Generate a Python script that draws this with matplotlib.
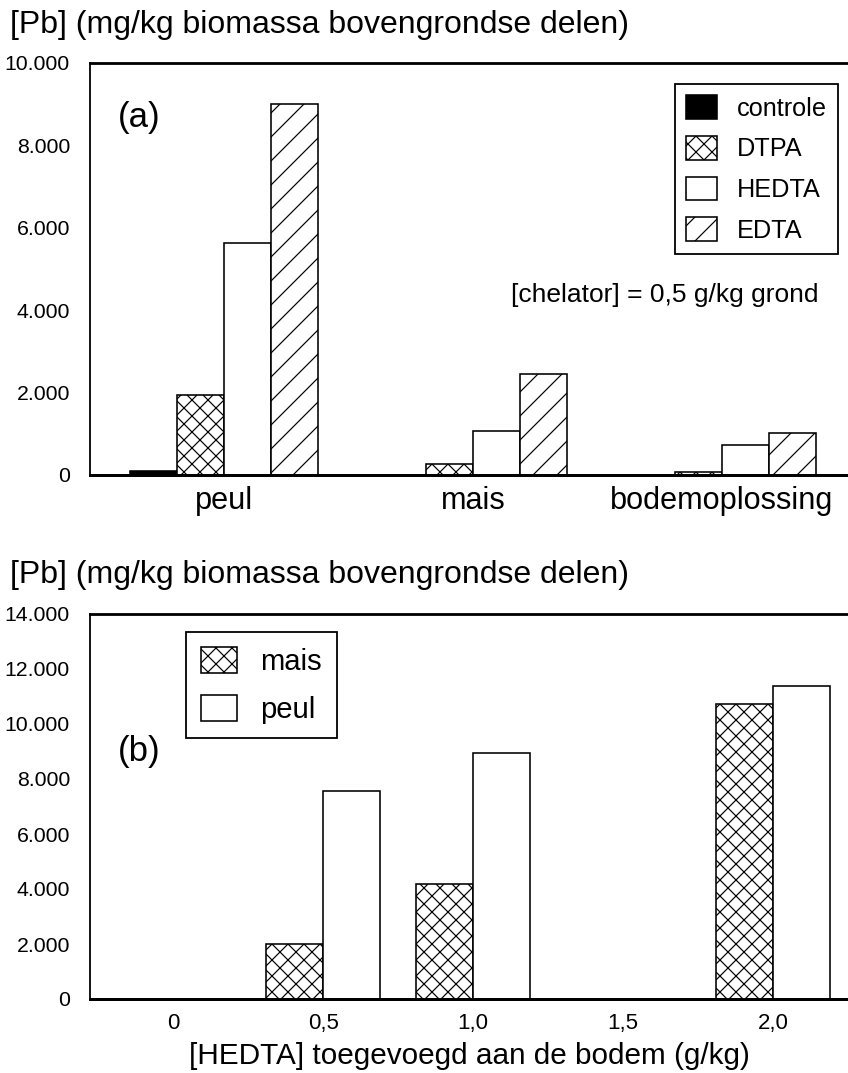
import matplotlib
matplotlib.use('Agg')
import matplotlib.pyplot as plt
from matplotlib.patches import Patch
from matplotlib.ticker import FuncFormatter
import numpy as np

plt.rcParams['font.family'] = ['Liberation Sans', 'DejaVu Sans']
plt.rcParams['hatch.linewidth'] = 0.6

# panel (a): Pb in shoots per chelator, 0.5 g/kg soil
groups_a = ['peul', 'mais', 'bodemoplossing']
chelators = ['controle', 'DTPA', 'HEDTA', 'EDTA']
pb_a = {
    'controle': [90, 0, 0],
    'DTPA': [1950, 260, 80],
    'HEDTA': [5620, 1070, 730],
    'EDTA': [9000, 2460, 1010],
}
yticks_a = [0, 2000, 4000, 6000, 8000, 10000]

# panel (b): Pb vs HEDTA dose
doses = [0, 0.5, 1.0, 1.5, 2.0]
dose_labels = ['0', '0,5', '1,0', '1,5', '2,0']
pb_mais = [0, 2000, 4180, 0, 10730]
pb_peul = [0, 7580, 8950, 0, 11400]
yticks_b = [0, 2000, 4000, 6000, 8000, 10000, 12000, 14000]

styles = {
    'controle': dict(facecolor='black', hatch=None),
    'DTPA': dict(facecolor='white', hatch='xxx'),
    'HEDTA': dict(facecolor='white', hatch=None),
    'EDTA': dict(facecolor='white', hatch='//'),
}

dutch = FuncFormatter(lambda v, p: f"{int(v):,}".replace(',', '.'))

DPI = 144
W, H = 848, 1073
fig = plt.figure(figsize=(W / DPI, H / DPI), dpi=DPI)
ylab = '[Pb] (mg/kg biomassa bovengrondse delen)'


def style_axes(ax):
    ax.spines['right'].set_visible(False)
    ax.spines['top'].set_linewidth(1.4)
    ax.spines['bottom'].set_linewidth(1.5)
    ax.spines['left'].set_linewidth(0.9)
    ax.tick_params(axis='both', length=0)
    ax.tick_params(axis='y', labelsize=10.6, pad=10)
    ax.yaxis.set_major_formatter(dutch)


# ---- (a)
ax1 = fig.add_axes([90 / W, 1 - 475 / H, (W - 90) / W, 412 / H])
w = 0.189
x = np.arange(len(groups_a))
for i, c in enumerate(chelators):
    ax1.bar(x + (i - 1.5) * w, pb_a[c], width=w, edgecolor='black',
            linewidth=0.8, **styles[c])
ax1.set_xlim(-0.538, 2.506)
ax1.set_ylim(0, 10000)
ax1.set_yticks(yticks_a)
ax1.set_xticks(x)
ax1.set_xticklabels(groups_a, fontsize=15.3)
style_axes(ax1)
ax1.tick_params(axis='x', pad=5.5)
ax1.text(139, H - 118, '(a)', transform=None, fontsize=17.4, ha='center', va='center')
handles = [Patch(edgecolor='black', linewidth=0.8, label=c, **styles[c]) for c in chelators]
leg = ax1.legend(handles=handles, loc='upper left', bbox_to_anchor=((675 - 90) / 758, (475 - 84) / 412),
                 borderaxespad=0, fontsize=12.6, fancybox=False, framealpha=1,
                 edgecolor='black', handlelength=1.2, handleheight=1.08,
                 labelspacing=0.6, handletextpad=0.8, borderpad=0.45)
leg.get_frame().set_linewidth(0.9)
fig.text(665 / W, 1 - 295 / H, '[chelator] = 0,5 g/kg grond', fontsize=13.2,
         ha='center', va='center')
fig.text(10 / W, 1 - 25 / H, ylab, fontsize=16, ha='left', va='center')

# ---- (b)
ax2 = fig.add_axes([90 / W, 1 - 999 / H, (W - 90) / W, 385 / H])
wb = 0.19
ax2.bar(np.array(doses) - wb, pb_mais, width=wb, align='edge', facecolor='white',
        hatch='xxx', edgecolor='black', linewidth=0.8, label='mais')
ax2.bar(np.array(doses), pb_peul, width=wb, align='edge', facecolor='white',
        edgecolor='black', linewidth=0.8, label='peul')
ax2.set_xlim(-0.277, 2.25)
ax2.set_ylim(0, 14000)
ax2.set_yticks(yticks_b)
ax2.set_xticks(doses)
ax2.set_xticklabels(dose_labels, fontsize=11.1)
style_axes(ax2)
ax2.tick_params(axis='x', pad=7)
ax2.set_xlabel('[HEDTA] toegevoegd aan de bodem (g/kg)', fontsize=14.9, labelpad=4)
ax2.text(139, H - 751, '(b)', transform=None, fontsize=17.4, ha='center', va='center')
leg2 = ax2.legend(loc='upper left', bbox_to_anchor=((186 - 90) / 758, (999 - 632) / 385),
                  borderaxespad=0, fontsize=14.6, fancybox=False, framealpha=1,
                  edgecolor='black', handlelength=1.25, handleheight=1.0,
                  labelspacing=0.65, handletextpad=0.8, borderpad=0.5)
leg2.get_frame().set_linewidth(0.9)
fig.text(10 / W, 1 - 575 / H, ylab, fontsize=16, ha='left', va='center')

fig.savefig('out.png', dpi=DPI)
